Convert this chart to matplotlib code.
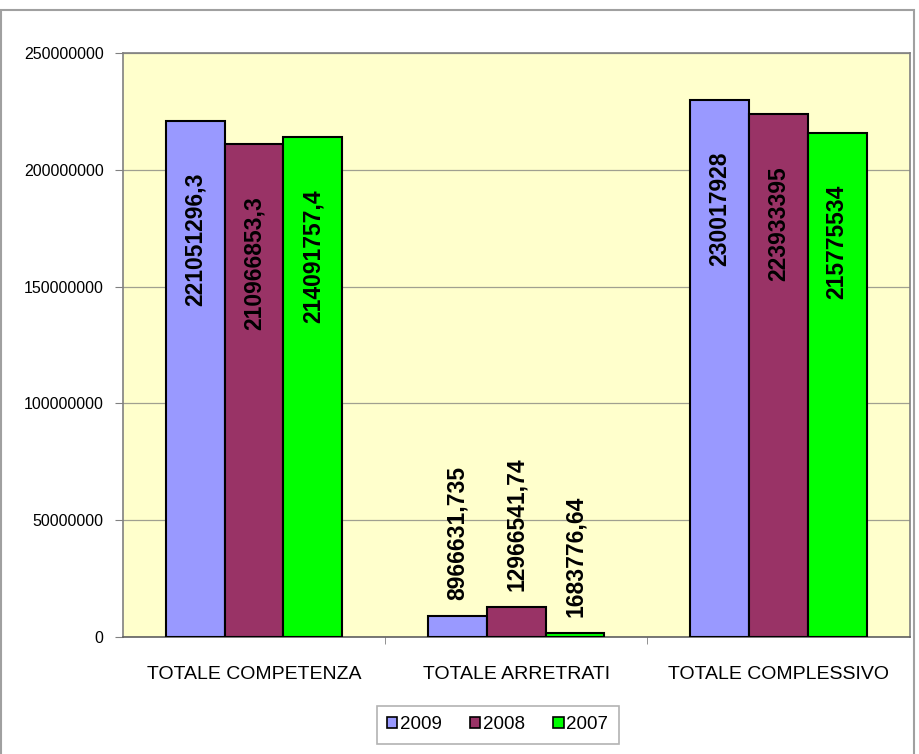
import numpy as np
import matplotlib.pyplot as plt
from matplotlib.patches import Rectangle, Patch
from matplotlib.ticker import FuncFormatter

plt.rcParams['font.family'] = ['Liberation Sans', 'DejaVu Sans']

categories = ['TOTALE COMPETENZA', 'TOTALE ARRETRATI', 'TOTALE COMPLESSIVO']
years = ['2009', '2008', '2007']
values_2009 = [221051296.3, 8966631.735, 230017928]
values_2008 = [210966853.3, 12966541.74, 223933395]
values_2007 = [214091757.4, 1683776.64, 215775534]
labels_2009 = ['221051296,3', '8966631,735', '230017928']
labels_2008 = ['210966853,3', '12966541,74', '223933395']
labels_2007 = ['214091757,4', '1683776,64', '215775534']
colors = ['#9999FF', '#993366', '#00FF00']

series = [values_2009, values_2008, values_2007]
series_labels = [labels_2009, labels_2008, labels_2007]

fig = plt.figure(figsize=(9.2, 7.54), dpi=100)
ax = fig.add_axes([0.1337, 0.1552, 0.855, 0.7745])
ax.set_facecolor('#FFFFCC')

# outer chart border (bottom edge falls outside the image)
fig.patches.append(Rectangle((1 / 920, -10 / 754), 913 / 920, 754 / 754,
                             transform=fig.transFigure, fill=False,
                             edgecolor='#A0A0A0', lw=1.5))

x = np.arange(len(categories))
w = 0.224
for i, (vals, labs) in enumerate(zip(series, series_labels)):
    pos = x + (i - 1) * w
    ax.bar(pos, vals, width=w, color=colors[i], edgecolor='black', lw=1.5,
           label=years[i], zorder=3)
    for p, v, t in zip(pos, vals, labs):
        if v > 50000000:
            ax.annotate(t, (p, v), xytext=(0, -52), textcoords='offset pixels',
                        rotation=90, ha='center', va='top', fontsize=16.5,
                        fontweight='bold', zorder=4)
        else:
            ax.annotate(t, (p, v), xytext=(0, 16), textcoords='offset pixels',
                        rotation=90, ha='center', va='bottom', fontsize=16.5,
                        fontweight='bold', zorder=4)

ax.set_xlim(-0.5, 2.5)
ax.set_ylim(0, 250000000)
ax.set_yticks(np.arange(0, 250000001, 50000000))
ax.yaxis.set_major_formatter(FuncFormatter(lambda v, _: f'{int(v)}'))
ax.grid(axis='y', color='#A0A090', lw=0.9, zorder=1)

ax.set_xticks(x)
ax.set_xticklabels(categories, fontsize=14)
ax.set_xticks([0.5, 1.5], minor=True)
ax.tick_params(axis='x', which='major', length=0, pad=21)
ax.tick_params(axis='x', which='minor', length=5, color='#808080')
ax.tick_params(axis='y', labelsize=11.5, length=6, color='#808080', pad=8)

for s in ax.spines.values():
    s.set_color('#808080')
    s.set_linewidth(1.2)
ax.spines['bottom'].set_color('#606060')

handles = [Patch(facecolor=c, edgecolor='black', lw=1.2, label=y)
           for c, y in zip(colors, years)]
leg = fig.legend(handles=handles, loc='center', bbox_to_anchor=(0.541, 0.0385),
                 ncol=3, fontsize=13.5, frameon=True, fancybox=False,
                 handlelength=0.55, handleheight=0.55, handletextpad=0.15,
                 columnspacing=1.5, borderpad=0.55)
leg.get_frame().set_edgecolor('#A0A0A0')
leg.get_frame().set_linewidth(1.2)

fig.savefig('out.png', dpi=100)
